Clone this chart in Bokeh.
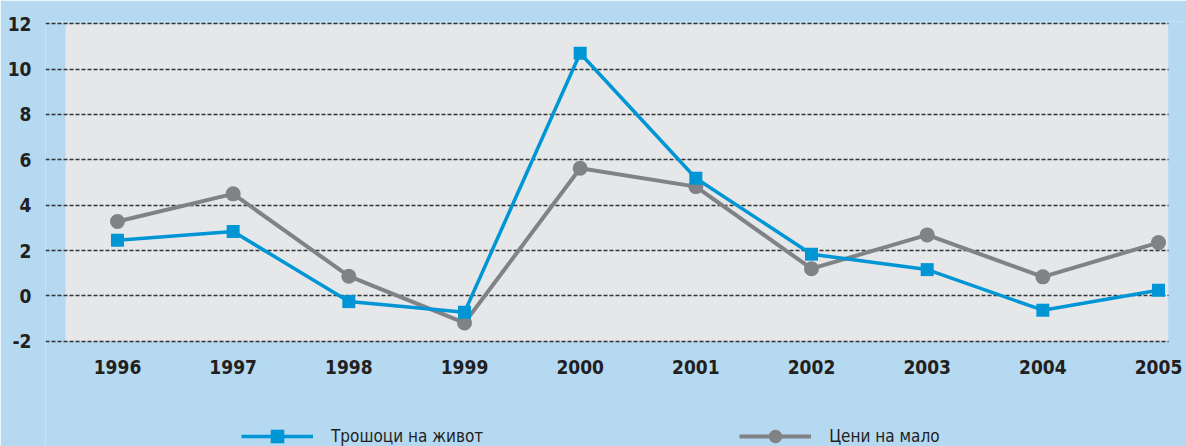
from bokeh.plotting import figure
from bokeh.models import (Range1d, FixedTicker, BoxAnnotation, Legend, LegendItem, ColumnDataSource)
from bokeh.embed import file_html
from bokeh.resources import INLINE

years = [1996, 1997, 1998, 1999, 2000, 2001, 2002, 2003, 2004, 2005]
cost_of_living = [2.45, 2.84, -0.25, -0.72, 10.7, 5.19, 1.84, 1.16, -0.63, 0.25]
retail_prices = [3.28, 4.50, 0.87, -1.19, 5.63, 4.82, 1.20, 2.69, 0.84, 2.35]
y_ticks = [-2, 0, 2, 4, 6, 8, 10, 12]
series_names = ["Трошоци на живот", "Цени на мало"]

BG = "#b5d9f0"
PANEL = "#e6e7e9"
BLUE = "#0096d6"
GRAY = "#818285"
FONT = "DejaVu Sans Condensed"

p = figure(width=1186, height=446, output_backend="svg", toolbar_location=None,
           x_range=Range1d(1995.3776, 2005.242), y_range=Range1d(-6.64, 12.1),
           min_border_left=45, min_border_right=0, min_border_top=21, min_border_bottom=0)
p.border_fill_color = BG
p.background_fill_color = BG
p.outline_line_color = None

panel = BoxAnnotation(left=1995.55, right=2005.0865, bottom=-2, top=12, fill_color=PANEL,
                      fill_alpha=1, line_color=None, level="image")
p.add_layout(panel)
# light-blue margin on the right, covering the grid lines beyond the panel
edge = BoxAnnotation(left=2005.0865, fill_color=BG, fill_alpha=1, line_color=None, level="glyph")
p.add_layout(edge)

p.xgrid.grid_line_color = None
p.ygrid.ticker = FixedTicker(ticks=y_ticks)
p.ygrid.grid_line_color = "#333333"
p.ygrid.grid_line_dash = "4 2"
p.ygrid.grid_line_width = 1.3

p.yaxis.ticker = FixedTicker(ticks=y_ticks)
p.yaxis.major_label_overrides = {t: str(t) for t in y_ticks}
p.xaxis.ticker = FixedTicker(ticks=years)
p.xaxis.major_label_overrides = {y: str(y) for y in years}
p.xaxis.fixed_location = -2.1
for ax in (p.xaxis, p.yaxis):
    ax.axis_line_color = None
    ax.major_tick_line_color = None
    ax.minor_tick_line_color = None
    ax.major_tick_out = 0
    ax.major_tick_in = 0
    ax.minor_tick_out = 0
    ax.major_label_text_font = FONT
    ax.major_label_text_font_style = "bold"
    ax.major_label_text_color = "#231f20"
p.yaxis.major_label_text_font_size = "19px"
p.xaxis.major_label_text_font_size = "19px"
p.yaxis.major_label_standoff = 14
p.xaxis.major_label_standoff = 16

src = ColumnDataSource(dict(x=years, a=cost_of_living, b=retail_prices))
lb = p.line("x", "b", source=src, line_color=GRAY, line_width=4)
sb = p.scatter("x", "b", source=src, marker="circle", size=15, fill_color=GRAY, line_color=None)
la = p.line("x", "a", source=src, line_color=BLUE, line_width=3.5)
sa = p.scatter("x", "a", source=src, marker="square", size=13, fill_color=BLUE, line_color=None)

legend = Legend(items=[LegendItem(label=series_names[0], renderers=[la, sa]),
                       LegendItem(label=series_names[1], renderers=[lb, sb])],
                orientation="horizontal", location=(196, -7),
                glyph_width=72, glyph_height=34, label_standoff=18, spacing=256,
                padding=0, margin=0, background_fill_alpha=0, border_line_color=None,
                label_text_font=FONT, label_text_font_size="17px", label_text_color="#231f20")
p.add_layout(legend, "center")

open("out.html", "w").write(file_html(p, INLINE))
